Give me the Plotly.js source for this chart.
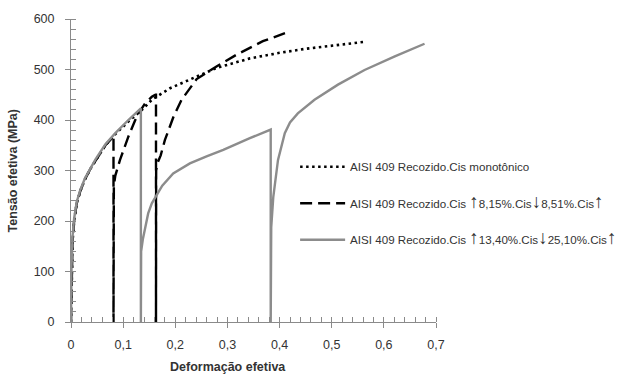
<!DOCTYPE html>
<html>
<head>
<meta charset="utf-8">
<script src="https://cdn.plot.ly/plotly-3.0.1.min.js"></script>
<style>html,body{margin:0;padding:0;background:#fff;}#chart{width:624px;height:376px;}</style>
</head>
<body>
<div id="chart"></div>
<script>
// Monotonic test (dotted)
const monoX = [0, 0.001, 0.003, 0.006, 0.011, 0.018, 0.027, 0.037, 0.047, 0.066, 0.085, 0.11, 0.136, 0.155, 0.19, 0.228, 0.279, 0.343, 0.40, 0.45, 0.50, 0.565];
const monoY = [0, 100, 160, 200, 235, 260, 283, 303, 320, 350, 372, 397, 420, 440, 463, 480, 503, 522, 533, 541, 547, 555];

// Reversal test 8,15% / 8,51% (dashed)
const revAX = [0, 0.001, 0.003, 0.006, 0.011, 0.018, 0.027, 0.037, 0.047, 0.066, 0.0815, 0.0815, 0.0818, 0.0822, 0.085, 0.094, 0.11, 0.126, 0.142, 0.155, 0.162, 0.163, 0.163, 0.1633, 0.166, 0.172, 0.18, 0.196, 0.212, 0.241, 0.279, 0.317, 0.368, 0.413, 0.421];
const revAY = [0, 100, 160, 200, 235, 260, 283, 303, 320, 350, 367, 0, 0, 270, 290, 321, 367, 407, 433, 446, 450, 450, 0, 300, 315, 330, 360, 405, 440, 481, 506, 529, 556, 572, 576];

// Reversal test 13,40% / 25,10% (grey)
const revBX = [0, 0.001, 0.003, 0.006, 0.011, 0.018, 0.027, 0.037, 0.047, 0.066, 0.085, 0.11, 0.134, 0.134, 0.1345, 0.138, 0.142, 0.148, 0.155, 0.164, 0.175, 0.196, 0.228, 0.26, 0.292, 0.343, 0.381, 0.383, 0.383, 0.3835, 0.384, 0.388, 0.397, 0.41, 0.42, 0.435, 0.467, 0.512, 0.563, 0.621, 0.678];
const revBY = [0, 110, 170, 205, 238, 262, 285, 305, 322, 352, 374, 400, 423, 0, 140, 165, 188, 215, 235, 250, 270, 294, 314, 328, 341, 364, 379, 381, 0, 160, 188, 248, 321, 374, 395, 413, 440, 470, 499, 526, 551];

const up = '<span style="font-size:19px">↑</span>';
const dn = '<span style="font-size:19px">↓</span>';
const names = [
  'AISI 409 Recozido.Cis monotônico',
  'AISI 409 Recozido.Cis ' + up + '8,15%.Cis' + dn + '8,51%.Cis' + up,
  'AISI 409 Recozido.Cis ' + up + '13,40%.Cis' + dn + '25,10%.Cis' + up
];
const xTitle = 'Deformação efetiva';
const yTitle = 'Tensão efetiva (MPa)';

const traces = [
  {x: monoX, y: monoY, name: names[0], legendgroup: 'a', mode: 'lines',
   line: {color: '#000', width: 2.6, dash: '2.5px,3.5px'}},
  {x: revAX, y: revAY, name: names[1], legendgroup: 'b', mode: 'lines',
   line: {color: '#000', width: 2.4, dash: '12px,6px'}},
  {x: revBX, y: revBY, name: names[2], legendgroup: 'c', mode: 'lines',
   line: {color: '#8c8c8c', width: 2.4}}
];

const axisCommon = {
  showgrid: false, zeroline: false, showline: true, linecolor: '#8a8a8a', linewidth: 1,
  ticks: 'outside', ticklen: 5, tickcolor: '#8a8a8a', tickwidth: 1,
  tickfont: {family: 'Liberation Sans, Arial, sans-serif', size: 12.5, color: '#333'}
};

const layout = {
  width: 624, height: 376,
  margin: {l: 71, r: 188, t: 19, b: 54, autoexpand: false},
  paper_bgcolor: '#fff', plot_bgcolor: '#fff',
  separators: ',.',
  showlegend: true,
  xaxis: Object.assign({}, axisCommon, {
    range: [0, 0.7], dtick: 0.1, tick0: 0, ticklabelstandoff: 6,
    minor: {ticks: 'inside', ticklen: 5, dtick: 0.02, tickcolor: '#8a8a8a', showgrid: false}
  }),
  yaxis: Object.assign({}, axisCommon, {
    range: [0, 600], dtick: 100, tick0: 0, ticklabelstandoff: 8,
    minor: {ticks: 'inside', ticklen: 5, dtick: 20, tickcolor: '#8a8a8a', showgrid: false}
  }),
  xaxis2: {overlaying: 'x', anchor: 'y', range: [0, 0.7], dtick: 0.1, ticks: 'inside', ticklen: 5,
    tickcolor: '#8a8a8a', showticklabels: false, showline: false, showgrid: false, zeroline: false},
  yaxis2: {overlaying: 'y', anchor: 'x', range: [0, 600], dtick: 100, ticks: 'inside', ticklen: 5,
    tickcolor: '#8a8a8a', showticklabels: false, showline: false, showgrid: false, zeroline: false},
  legend: {
    x: 0.614, y: 0.56, xanchor: 'left', yanchor: 'top',
    bgcolor: 'rgba(0,0,0,0)', borderwidth: 0,
    font: {family: 'Liberation Sans, Arial, sans-serif', size: 11.6, color: '#333'},
    tracegroupgap: 17.5, itemwidth: 45, traceorder: 'grouped'
  },
  annotations: [
    {text: '<b>' + xTitle + '</b>', xref: 'paper', yref: 'paper', x: 0.43, y: -0.148,
     xanchor: 'center', yanchor: 'middle', showarrow: false,
     font: {family: 'Liberation Sans, Arial, sans-serif', size: 12.5, color: '#333'}},
    {text: '<b>' + yTitle + '</b>', xref: 'paper', yref: 'paper', x: -0.159, y: 0.5,
     xanchor: 'center', yanchor: 'middle', textangle: -90, showarrow: false,
     font: {family: 'Liberation Sans, Arial, sans-serif', size: 12.5, color: '#333'}}
  ]
};

Plotly.newPlot('chart', traces, layout, {displayModeBar: false, staticPlot: true});
</script>
</body>
</html>
